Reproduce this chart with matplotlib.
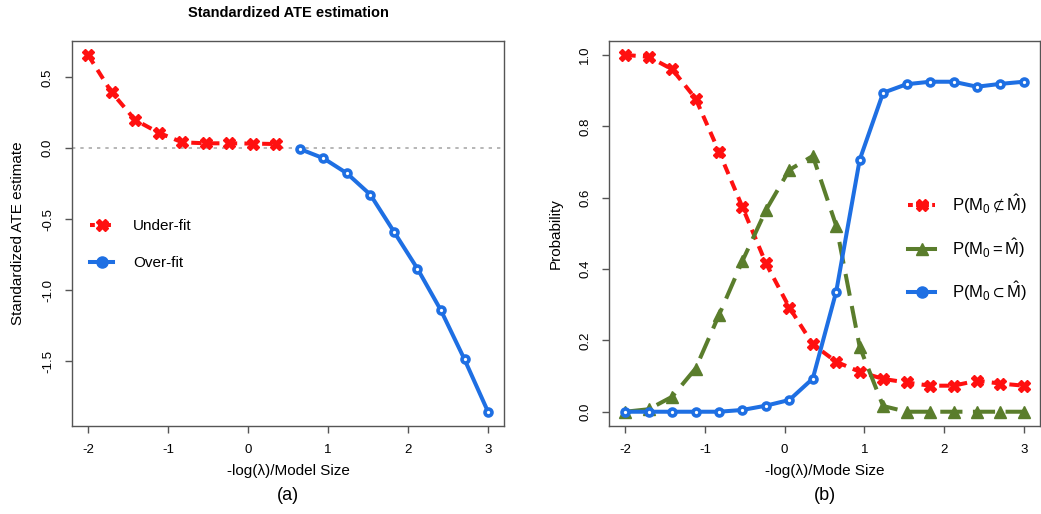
import matplotlib.pyplot as plt
from matplotlib.lines import Line2D

plt.rcParams['font.family'] = ['Liberation Sans', 'DejaVu Sans']
plt.rcParams['mathtext.fontset'] = 'custom'
plt.rcParams['mathtext.rm'] = 'Liberation Sans'
plt.rcParams['mathtext.it'] = 'Liberation Sans:italic'
plt.rcParams['mathtext.fallback'] = 'stixsans'
plt.rcParams['axes.unicode_minus'] = False

# x grid (18 steps from -2 to 3)
x_under = [-2.0, -1.706, -1.412, -1.118, -0.824, -0.529, -0.235, 0.059, 0.353]
x_over = [0.647, 0.941, 1.235, 1.529, 1.824, 2.118, 2.412, 2.706, 3.0]
x_all = x_under + x_over

# panel (a): standardized ATE estimate
ate_under = [0.658, 0.395, 0.20, 0.11, 0.042, 0.035, 0.035, 0.033, 0.030]
ate_over = [-0.005, -0.07, -0.176, -0.327, -0.588, -0.849, -1.143, -1.488, -1.857]

# panel (b): probabilities
p_not_sub = [1.0, 0.995, 0.96, 0.878, 0.729, 0.573, 0.416, 0.292, 0.189,
             0.14, 0.112, 0.092, 0.082, 0.073, 0.073, 0.087, 0.079, 0.073]
p_equal = [0.0, 0.007, 0.042, 0.121, 0.271, 0.423, 0.565, 0.678, 0.717,
           0.521, 0.182, 0.016, 0.0, 0.0, 0.0, 0.0, 0.0, 0.0]
p_sub = [0.0, 0.0, 0.0, 0.0, 0.0, 0.005, 0.017, 0.033, 0.093,
         0.337, 0.706, 0.894, 0.918, 0.925, 0.925, 0.911, 0.919, 0.925]

RED = '#ff1010'
GREEN = '#5a7d2c'
BLUE = '#1e6fe3'
LW = 2.9

red_style = dict(color=RED, lw=LW, dashes=(2.6, 1.8), marker='X', ms=9)
green_style = dict(color=GREEN, lw=LW, dashes=(5.5, 2.6), marker='^', ms=9)
blue_style = dict(color=BLUE, lw=LW, marker='o', ms=5, mfc='white', mew=2.6)


def style_axes(ax):
    for s in ax.spines.values():
        s.set_color('#555555')
        s.set_linewidth(1.0)
    ax.tick_params(axis='both', direction='out', length=5, width=1,
                   color='#555555', labelsize=9.5)
    ax.tick_params(axis='x', pad=8)
    ax.tick_params(axis='y', pad=8)
    ax.set_xticks([-2, -1, 0, 1, 2, 3])
    ax.set_xlim(-2.2, 3.2)
    for lab in ax.get_yticklabels():
        lab.set_rotation(90)
        lab.set_va('center')


fig = plt.figure(figsize=(10.41, 5.14), dpi=100)
ax1 = fig.add_axes([0.0692, 0.1712, 0.415, 0.7496])
ax2 = fig.add_axes([0.5853, 0.1712, 0.4135, 0.7496])

# (a)
ax1.axhline(0, color='#aaaaaa', lw=1.2, ls=(0, (2, 3)))
ax1.plot(x_under, ate_under, **red_style)
ax1.plot(x_over, ate_over, **blue_style)
ax1.set_ylim(-1.957, 0.758)
ax1.set_yticks([-1.5, -1.0, -0.5, 0.0, 0.5])
ax1.set_yticklabels(['-1.5', '-1.0', '-0.5', '0.0', '0.5'])
style_axes(ax1)
ax1.set_title('Standardized ATE estimation', fontsize=10.5, fontweight='bold', pad=17)
ax1.set_ylabel('Standardized ATE estimate', fontsize=11, labelpad=12)
ax1.set_xlabel('-log(\u03bb)/Model Size', fontsize=11, labelpad=6)
fig.text(0.2767, 0.028, '(a)', ha='center', fontsize=13)

h1 = [Line2D([], [], color=RED, lw=LW, dashes=(1.2, 0.8), marker='X', ms=9),
      Line2D([], [], color=BLUE, lw=LW, marker='o', ms=8)]
ax1.legend(h1, ['Under-fit', 'Over-fit'], loc='upper left',
           bbox_to_anchor=(0.01, 0.572), frameon=False, fontsize=11,
           handlelength=1.5, labelspacing=1.5, numpoints=1, handletextpad=1.3)

# (b)
ax2.plot(x_all, p_not_sub, **red_style)
ax2.plot(x_all, p_equal, **green_style)
ax2.plot(x_all, p_sub, **blue_style)
ax2.set_ylim(-0.04, 1.04)
ax2.set_yticks([0.0, 0.2, 0.4, 0.6, 0.8, 1.0])
ax2.set_yticklabels(['0.0', '0.2', '0.4', '0.6', '0.8', '1.0'])
style_axes(ax2)
ax2.set_ylabel('Probability', fontsize=11, labelpad=12)
ax2.set_xlabel('-log(\u03bb)/Mode Size', fontsize=11, labelpad=6)
fig.text(0.7925, 0.028, '(b)', ha='center', fontsize=13)

h2 = [Line2D([], [], color=RED, lw=LW, dashes=(1.2, 0.8), marker='X', ms=9),
      Line2D([], [], color=GREEN, lw=LW, marker='^', ms=9),
      Line2D([], [], color=BLUE, lw=LW, marker='o', ms=8)]
labels2 = [r'P$(\mathrm{M}_0 \nsubset \hat{\mathrm{M}})$',
           r'P$(\mathrm{M}_0 = \hat{\mathrm{M}})$',
           r'P$(\mathrm{M}_0 \subset \hat{\mathrm{M}})$']
ax2.legend(h2, labels2, loc='upper left', bbox_to_anchor=(0.66, 0.645),
           frameon=False, fontsize=12, handlelength=1.6, labelspacing=1.2,
           numpoints=1, handletextpad=1.0)

fig.savefig('out.png', dpi=100)
